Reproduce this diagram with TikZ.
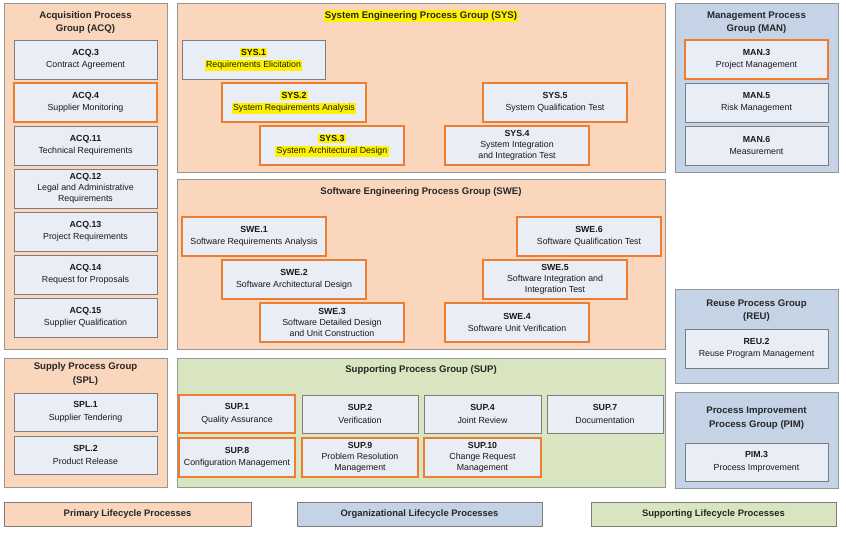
\documentclass[tikz,border=0pt]{standalone}
\usepackage{fontspec}
\setmainfont{Liberation Sans}
\definecolor{peach}{RGB}{250,214,189}
\definecolor{orgblue}{RGB}{196,211,229}
\definecolor{supgreen}{RGB}{217,228,192}
\definecolor{boxfill}{RGB}{233,237,245}
\definecolor{grpline}{RGB}{150,150,150}
\definecolor{boxline}{RGB}{125,125,125}
\definecolor{hlorange}{RGB}{237,125,49}
\definecolor{hlyellow}{RGB}{255,242,0}
\newcommand\hly[1]{{\setlength{\fboxsep}{1.3pt}\colorbox{hlyellow}{#1}}}
\newcommand\bxn[7]{%
  \pgfmathsetmacro\bcx{(#3+#5)/2}%
  \pgfmathsetmacro\bcy{(#4+#6)/2}%
  \pgfmathsetmacro\bwd{#5-#3}%
  \pgfmathsetmacro\bht{#6-#4}%
  \node[#2, minimum width=\bwd pt, minimum height=\bht pt] (#1) at (\bcx,\bcy) {#7};}
\tikzset{
  grp/.style={rectangle, draw=grpline, line width=0.9pt, inner sep=0pt, outer sep=0pt},
  peachgrp/.style={grp, fill=peach},
  bluegrp/.style={grp, fill=orgblue},
  greengrp/.style={grp, fill=supgreen},
  gtitle/.style={align=center, font=\fontsize{9.6}{13.5}\selectfont\bfseries, text=black!85, inner sep=0pt},
  pbox/.style={rectangle, fill=boxfill, draw=boxline, line width=0.8pt, align=center,
    inner sep=0.5pt, font=\fontsize{8.8}{12.5}\selectfont, text=black!90},
  obox/.style={pbox, draw=hlorange, line width=1.8pt},
  tri/.style={font=\fontsize{8.8}{11.2}\selectfont},
  legend/.style={grp, draw=boxline, font=\fontsize{9.4}{11}\selectfont\bfseries, text=black!85},
}
\begin{document}
\begin{tikzpicture}[x=1pt,y=-1pt]
\useasboundingbox (0,0) rectangle (846,534);
% ---- groups
\bxn{acq}{peachgrp}{4}{3}{167}{349}{}
\bxn{sys}{peachgrp}{177}{3}{665}{172}{}
\bxn{swe}{peachgrp}{177}{179}{665}{349}{}
\bxn{man}{bluegrp}{675}{3}{838}{172}{}
\bxn{reu}{bluegrp}{675}{289}{838}{383}{}
\bxn{pim}{bluegrp}{675}{392}{838}{488}{}
\bxn{spl}{peachgrp}{4}{358}{167}{487}{}
\bxn{sup}{greengrp}{177}{358}{665}{487}{}
% ---- group titles
\node[gtitle] (acqt) at (85.5,22.5) {Acquisition Process\\Group (ACQ)};
\node[gtitle] (syst) at (421,16) {\hly{System Engineering Process Group (SYS)}};
\node[gtitle] (swet) at (421,192) {Software Engineering Process Group (SWE)};
\node[gtitle] (mant) at (756.5,22.5) {Management Process\\Group (MAN)};
\node[gtitle] (reut) at (756.5,310.5) {Reuse Process Group\\(REU)};
\node[gtitle] (pimt) at (756.5,418) {Process Improvement\\Process Group (PIM)};
\node[gtitle] (splt) at (85.5,374) {Supply Process Group\\(SPL)};
\node[gtitle] (supt) at (421,370) {Supporting Process Group (SUP)};
% ---- ACQ
\bxn{acq3}{pbox}{14}{40}{157}{79}{\textbf{ACQ.3}\\Contract Agreement}
\bxn{acq4}{obox}{14}{83}{157}{122}{\textbf{ACQ.4}\\Supplier Monitoring}
\bxn{acq11}{pbox}{14}{126}{157}{165}{\textbf{ACQ.11}\\Technical Requirements}
\bxn{acq12}{pbox,tri}{14}{169}{157}{208}{\textbf{ACQ.12}\\Legal and Administrative\\Requirements}
\bxn{acq13}{pbox}{14}{212}{157}{251}{\textbf{ACQ.13}\\Project Requirements}
\bxn{acq14}{pbox}{14}{255}{157}{294}{\textbf{ACQ.14}\\Request for Proposals}
\bxn{acq15}{pbox}{14}{298}{157}{337}{\textbf{ACQ.15}\\Supplier Qualification}
% ---- SYS
\bxn{sys1}{pbox}{182}{40}{325}{79}{\hly{\textbf{SYS.1}}\\\hly{Requirements Elicitation}}
\bxn{sys2}{obox}{222}{83}{366}{122}{\hly{\textbf{SYS.2}}\\\hly{System Requirements Analysis}}
\bxn{sys3}{obox}{260}{126}{404}{165}{\hly{\textbf{SYS.3}}\\\hly{System Architectural Design}}
\bxn{sys5}{obox}{483}{83}{627}{122}{\textbf{SYS.5}\\System Qualification Test}
\bxn{sys4}{obox,tri}{445}{126}{589}{165}{\textbf{SYS.4}\\System Integration\\and Integration Test}
% ---- SWE
\bxn{swe1}{obox}{182}{217}{326}{256}{\textbf{SWE.1}\\Software Requirements Analysis}
\bxn{swe2}{obox}{222}{260}{366}{299}{\textbf{SWE.2}\\Software Architectural Design}
\bxn{swe3}{obox,tri}{260}{303}{404}{342}{\textbf{SWE.3}\\Software Detailed Design\\and Unit Construction}
\bxn{swe6}{obox}{517}{217}{661}{256}{\textbf{SWE.6}\\Software Qualification Test}
\bxn{swe5}{obox,tri}{483}{260}{627}{299}{\textbf{SWE.5}\\Software Integration and\\Integration Test}
\bxn{swe4}{obox}{445}{303}{589}{342}{\textbf{SWE.4}\\Software Unit Verification}
% ---- MAN
\bxn{man3}{obox}{685}{40}{828}{79}{\textbf{MAN.3}\\Project Management}
\bxn{man5}{pbox}{685}{83}{828}{122}{\textbf{MAN.5}\\Risk Management}
\bxn{man6}{pbox}{685}{126}{828}{165}{\textbf{MAN.6}\\Measurement}
% ---- REU / PIM
\bxn{reu2}{pbox}{685}{329}{828}{368}{\textbf{REU.2}\\Reuse Program Management}
\bxn{pim3}{pbox}{685}{443}{828}{481}{\textbf{PIM.3}\\Process Improvement}
% ---- SPL
\bxn{spl1}{pbox}{14}{393}{157}{431}{\textbf{SPL.1}\\Supplier Tendering}
\bxn{spl2}{pbox}{14}{436}{157}{474}{\textbf{SPL.2}\\Product Release}
% ---- SUP
\bxn{sup1}{obox}{179}{395}{295}{433}{\textbf{SUP.1}\\Quality Assurance}
\bxn{sup8}{obox}{179}{438}{295}{477}{\textbf{SUP.8}\\Configuration Management}
\bxn{sup2}{pbox}{302}{395}{418}{433}{\textbf{SUP.2}\\Verification}
\bxn{sup9}{obox,tri}{302}{438}{418}{477}{\textbf{SUP.9}\\Problem Resolution\\Management}
\bxn{sup4}{pbox}{424}{395}{541}{433}{\textbf{SUP.4}\\Joint Review}
\bxn{sup10}{obox,tri}{424}{438}{541}{477}{\textbf{SUP.10}\\Change Request\\Management}
\bxn{sup7}{pbox}{547}{395}{663}{433}{\textbf{SUP.7}\\Documentation}
% ---- legend
\bxn{legpri}{legend,fill=peach}{4}{502}{251}{526}{Primary Lifecycle Processes}
\bxn{legorg}{legend,fill=orgblue}{297}{502}{542}{526}{Organizational Lifecycle Processes}
\bxn{legsup}{legend,fill=supgreen}{591}{502}{836}{526}{Supporting Lifecycle Processes}
\end{tikzpicture}
\end{document}
